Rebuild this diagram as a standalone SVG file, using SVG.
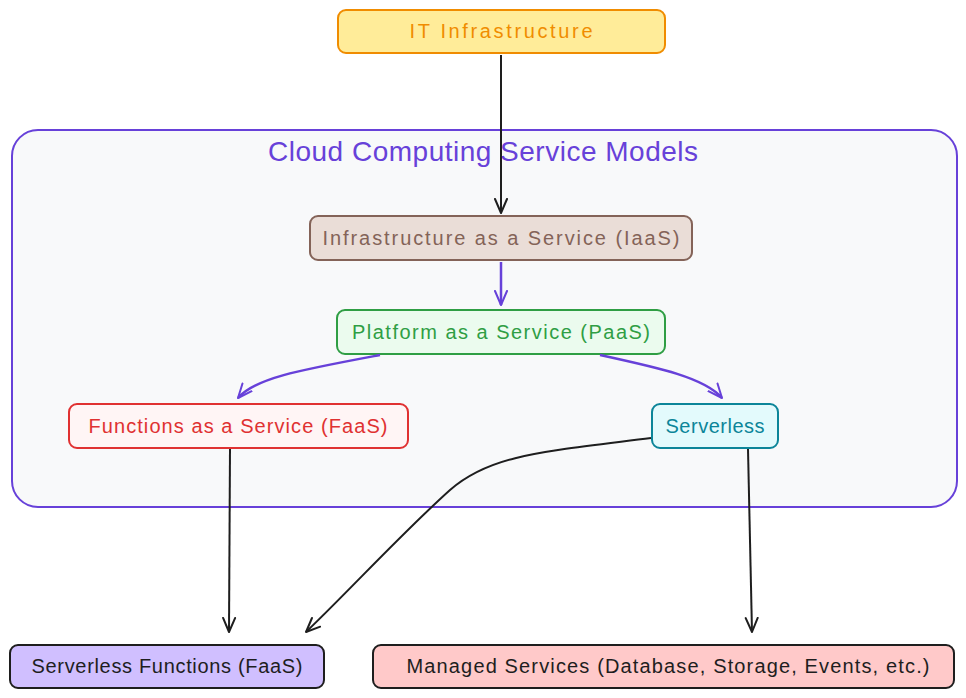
<svg xmlns="http://www.w3.org/2000/svg" width="966" height="698" viewBox="0 0 966 698">
<style>
.box{stroke-width:2;}
.t{font-family:"Liberation Sans","DejaVu Sans",sans-serif;font-size:20px;text-anchor:middle;dominant-baseline:central;}
.title{font-family:"Liberation Sans","DejaVu Sans",sans-serif;font-size:28px;text-anchor:middle;dominant-baseline:central;fill:#6741d9;}
.edge{fill:none;stroke-width:2;}
.blk{stroke:#1e1e1e;}
.pur{stroke:#6741d9;stroke-width:2.5;}
</style>
<defs>
<marker id="ab" viewBox="0 0 16 16" refX="15" refY="8" markerWidth="16" markerHeight="16" markerUnits="userSpaceOnUse" orient="auto">
<path d="M1,2 L15,8 L1,14" fill="none" stroke="#1e1e1e" stroke-width="2" stroke-linecap="round" stroke-linejoin="round"/>
</marker>
<marker id="ap" viewBox="0 0 16 16" refX="15" refY="8" markerWidth="16" markerHeight="16" markerUnits="userSpaceOnUse" orient="auto">
<path d="M1,2 L15,8 L1,14" fill="none" stroke="#6741d9" stroke-width="2" stroke-linecap="round" stroke-linejoin="round"/>
</marker>
</defs>

<g id="cluster">
<rect x="12" y="130" width="945" height="377" rx="26" fill="#f8f9fa" stroke="#6741d9" stroke-width="2"/>
<text class="title" x="483" y="151" textLength="430" lengthAdjust="spacing">Cloud Computing Service Models</text>
</g>

<g id="it">
<rect class="box" x="338" y="10" width="327" height="43" rx="8" fill="#ffec99" stroke="#f08c00"/>
<text class="t" x="501" y="31" fill="#f08c00" textLength="183" lengthAdjust="spacing">IT Infrastructure</text>
</g>

<g id="iaas">
<rect class="box" x="310" y="216" width="382" height="44" rx="8" fill="#eaddd7" stroke="#846358"/>
<text class="t" x="501" y="238" fill="#846358" textLength="357" lengthAdjust="spacing">Infrastructure as a Service (IaaS)</text>
</g>

<g id="paas">
<rect class="box" x="337" y="310" width="328" height="44" rx="8" fill="#ebfbee" stroke="#2f9e44"/>
<text class="t" x="501" y="332" fill="#2f9e44" textLength="298" lengthAdjust="spacing">Platform as a Service (PaaS)</text>
</g>

<g id="faas">
<rect class="box" x="69" y="404" width="339" height="44" rx="8" fill="#fff5f5" stroke="#e03131"/>
<text class="t" x="238" y="426" fill="#e03131" textLength="299" lengthAdjust="spacing">Functions as a Service (FaaS)</text>
</g>

<g id="serverless">
<rect class="box" x="652" y="404" width="126" height="44" rx="8" fill="#e3fafc" stroke="#0c8599"/>
<text class="t" x="715" y="426" fill="#0c8599" textLength="99" lengthAdjust="spacing">Serverless</text>
</g>

<g id="sfaas">
<rect class="box" x="10" y="645" width="314" height="43" rx="8" fill="#d0bfff" stroke="#1e1e1e"/>
<text class="t" x="167" y="666" fill="#1e1e1e" font-size="19" textLength="271" lengthAdjust="spacing">Serverless Functions (FaaS)</text>
</g>

<g id="managed">
<rect class="box" x="373" y="645" width="581" height="43" rx="8" fill="#ffc9c9" stroke="#1e1e1e"/>
<text class="t" x="668" y="666" fill="#1e1e1e" font-size="19" textLength="523" lengthAdjust="spacing">Managed Services (Database, Storage, Events, etc.)</text>
</g>

<g id="connectors">
<path class="edge blk" d="M501,55 L501,213" marker-end="url(#ab)"/>
<path class="edge pur" d="M501,262 L501,305" marker-end="url(#ap)"/>
<path class="edge pur" d="M380,355 C300,370 255,378 238,398" marker-end="url(#ap)"/>
<path class="edge pur" d="M600,355 C660,368 705,378 722,398" marker-end="url(#ap)"/>
<path class="edge blk" d="M230,449 L229,632" marker-end="url(#ab)"/>
<path class="edge blk" d="M651,438 C540,452 490,455 450,490 C400,535 350,590 306,632" marker-end="url(#ab)"/>
<path class="edge blk" d="M748,449 L752,632" marker-end="url(#ab)"/>
</g>
</svg>
